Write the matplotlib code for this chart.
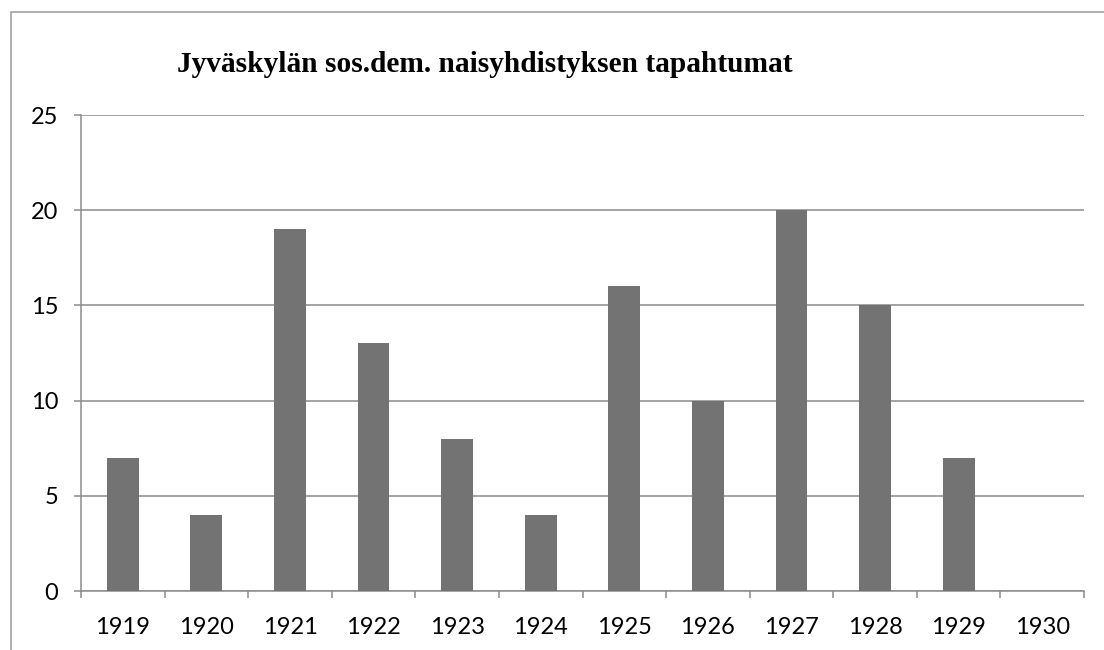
import matplotlib.pyplot as plt
from matplotlib.patches import Rectangle

years = ['1919', '1920', '1921', '1922', '1923', '1924', '1925', '1926', '1927', '1928', '1929', '1930']
counts = [7, 4, 19, 13, 8, 4, 16, 10, 20, 15, 7, 0]
title = 'Jyväskylän sos.dem. naisyhdistyksen tapahtumat'

W, H = 1104, 650
fig = plt.figure(figsize=(W / 100, H / 100), dpi=100)
ax = fig.add_axes([81 / W, 1 - 591 / H, (1084 - 81) / W, (591 - 115) / H])

grid = '#8c8c8c'
ax.bar(range(len(years)), counts, width=0.38, color='#737373', zorder=3)
ax.set_xlim(-0.5, len(years) - 0.5)
ax.set_ylim(0, 25)
ax.set_yticks([0, 5, 10, 15, 20, 25])
ax.set_xticks([i - 0.5 for i in range(len(years) + 1)], minor=False)
ax.set_xticklabels([])
ax.set_xticks(range(len(years)), minor=True)
ax.set_xticklabels(years, minor=True)
ax.tick_params(axis='x', which='major', length=5, width=1.1, color=grid)
ax.tick_params(axis='x', which='minor', length=0, pad=18.5, labelsize=17)
ax.tick_params(axis='y', length=5, width=1.1, color=grid, pad=11.5, labelsize=17)
for lab in ax.get_xticklabels(minor=True) + ax.get_yticklabels():
    lab.set_fontfamily('Lato')
ax.yaxis.grid(True, color=grid, linewidth=1.1, zorder=0)
for s in ['top', 'right']:
    ax.spines[s].set_visible(False)
for s in ['left', 'bottom']:
    ax.spines[s].set_color(grid)
    ax.spines[s].set_linewidth(1.1)

fig.text(485 / W, 1 - 65 / H, title, ha='center', va='center',
         fontsize=21.2, fontweight='bold', family='Liberation Serif')

# outer chart border (cropped at right and bottom)
fig.patches.append(Rectangle((11 / W, -0.1), 1.2, 1 - 12 / H + 0.1, transform=fig.transFigure,
                             fill=False, edgecolor='#9a9a9a', linewidth=1.1))

fig.savefig('out.png', dpi=100)
